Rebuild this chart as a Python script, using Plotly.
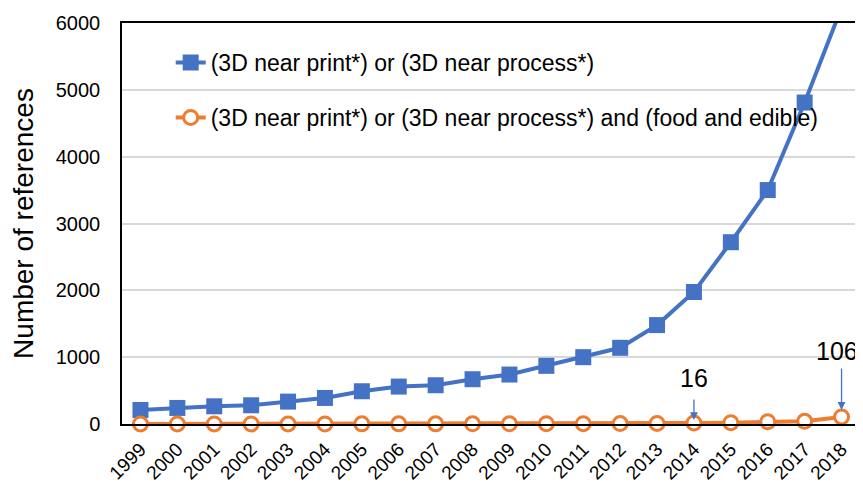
import plotly.graph_objects as go

years = [str(y) for y in range(1999, 2019)]
all_refs = [210, 240, 265, 280, 335, 390, 490, 560, 580, 670, 740, 870, 1000, 1140, 1480,
            1975, 2720, 3500, 4810, 6230]
food_refs = [1, 1, 1, 1, 1, 1, 2, 2, 2, 3, 3, 4, 5, 6, 8, 16, 20, 35, 40, 106]
callouts = [("2014", 16), ("2018", 106)]

name_all = "(3D near print*) or (3D near process*)"
name_food = "(3D near print*) or (3D near process*) and (food and edible)"

BLUE = "#4472C4"
ORANGE = "#ED7D31"
FONT = "Liberation Sans, Arial, sans-serif"

fig = go.Figure()
fig.add_trace(go.Scatter(
    x=years, y=all_refs, name=name_all, mode="lines+markers", legendgroup="a",
    line=dict(color=BLUE, width=4),
    marker=dict(symbol="square", size=16, color=BLUE),
))
fig.add_trace(go.Scatter(
    x=years, y=food_refs, name=name_food, mode="lines+markers", legendgroup="b",
    line=dict(color=ORANGE, width=4),
    marker=dict(symbol="circle", size=14, color="white", line=dict(color=ORANGE, width=3)),
    cliponaxis=False,
))

# arrows + labels (x given as category index)
arrow_specs = [(-25, 3, 45, 0), (-50, 7, 66, -5)]
for (yr, val), (tail, stand, yshift, xshift) in zip(callouts, arrow_specs):
    idx = years.index(yr)
    fig.add_annotation(x=idx, y=val, xref="x", yref="y", text="", showarrow=True,
                       ax=0, ay=tail, arrowhead=2, arrowsize=1.2, arrowwidth=1.3,
                       arrowcolor=BLUE, standoff=stand)
    fig.add_annotation(x=idx, y=val, xref="x", yref="y", text=str(val), showarrow=False,
                       yshift=yshift, xshift=xshift,
                       font=dict(size=25, color="black", family=FONT))

fig.update_layout(
    width=855, height=478,
    margin=dict(l=114, r=3, t=15, b=62),
    paper_bgcolor="white", plot_bgcolor="white",
    font=dict(family=FONT, color="black"),
    showlegend=True,
    legend=dict(x=0.066, y=0.955, xanchor="left", yanchor="top",
                font=dict(size=23, color="black"), bgcolor="rgba(0,0,0,0)",
                traceorder="grouped", tracegroupgap=22),
)
fig.update_xaxes(
    type="category", range=[-0.5, 19.5], tickangle=-45, automargin=False,
    tickfont=dict(size=19), showgrid=False, ticklabelstandoff=5,
    showline=True, linecolor="black", linewidth=1.5, mirror=True, ticks="",
)
fig.update_yaxes(
    range=[0, 6000], dtick=1000, tickfont=dict(size=20), ticklabelstandoff=16,
    showgrid=True, gridcolor="#d9d9d9", gridwidth=1.5, automargin=False,
    showline=True, linecolor="black", linewidth=1.5, mirror=True, ticks="",
    zeroline=False,
    title=dict(text="Number of references", font=dict(size=28), standoff=14),
)

fig.write_html("out.html")
